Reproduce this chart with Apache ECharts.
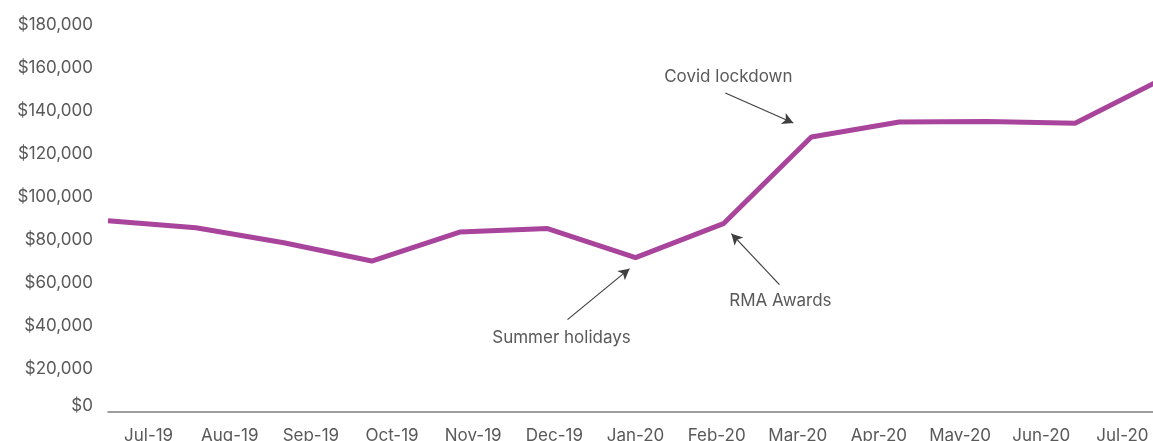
<!DOCTYPE html>
<html>
<head>
<meta charset="utf-8">
<style>
  html, body { margin: 0; padding: 0; background: #fff; }
  #revenue-chart { width: 1153px; height: 441px; }
</style>
<script src="https://cdn.jsdelivr.net/npm/echarts@6/dist/echarts.min.js"></script>
</head>
<body>
<div id="revenue-chart"></div>
<script>
// monthly revenue
const months = ['Jul-19', 'Aug-19', 'Sep-19', 'Oct-19', 'Nov-19', 'Dec-19',
  'Jan-20', 'Feb-20', 'Mar-20', 'Apr-20', 'May-20', 'Jun-20', 'Jul-20']
const revenue = [89000, 85700, 78700, 70200, 83700, 85300,
  71800, 87600, 127900, 134900, 135100, 134300, 155000]
const yMin = 0
const yMax = 180000
const yStep = 20000

// callouts: which month they point at, offsets are in px from that point
const notes = [
  { text: 'Covid lockdown', month: 'Mar-20', from: [-86, -44], to: [-18, -14], label: [-83, -60] },
  { text: 'RMA Awards', month: 'Feb-20', from: [56, 61], to: [8, 10], label: [57, 77] },
  { text: 'Summer holidays', month: 'Jan-20', from: [-68, 62], to: [-6, 11], label: [-74, 80] }
]

const textColor = '#595959'
const fontFamily = 'Inter, Lato, sans-serif'

const chartObj = echarts.init(document.getElementById('revenue-chart'))

chartObj.setOption({
  animation: false,
  // plot runs past the right edge, like the cropped original
  grid: { left: 108, right: -10, top: 25, bottom: 29, outerBoundsMode: 'none', containLabel: false },
  xAxis: [
    {
      // labels sit between ticks
      type: 'category',
      data: months,
      boundaryGap: true,
      axisLine: { lineStyle: { color: '#7f7f7f', width: 1.5 } },
      axisTick: { show: false },
      axisLabel: { color: textColor, fontSize: 17, fontFamily: fontFamily, margin: 15, interval: 0 },
      splitLine: { show: false }
    },
    {
      // the line is drawn on tick positions
      type: 'category',
      data: months,
      boundaryGap: false,
      show: false
    }
  ],
  yAxis: {
    type: 'value',
    min: yMin,
    max: yMax,
    interval: yStep,
    axisLine: { show: false },
    axisTick: { show: false },
    splitLine: { show: false },
    axisLabel: {
      color: textColor,
      fontSize: 17,
      fontFamily: fontFamily,
      margin: 15,
      formatter: v => v === 0 ? '{z|$0}' : '$' + v.toLocaleString('en-US'),
      rich: {
        z: { color: textColor, fontSize: 17, fontFamily: fontFamily, padding: [0, 0, 12, 0] }
      }
    }
  },
  series: [
    {
      name: 'Revenue',
      type: 'line',
      xAxisIndex: 1,
      data: revenue,
      symbol: 'none',
      lineStyle: { color: '#a8449b', width: 5 },
      clip: false
    }
  ]
})

// place the callouts relative to the data points
const arrows = []
const labels = []
notes.forEach(n => {
  const idx = months.indexOf(n.month)
  const p = chartObj.convertToPixel({ xAxisIndex: 1, yAxisIndex: 0 }, [idx, revenue[idx]])
  arrows.push([
    { x: p[0] + n.from[0], y: p[1] + n.from[1] },
    { x: p[0] + n.to[0], y: p[1] + n.to[1] }
  ])
  labels.push({
    type: 'text',
    x: p[0] + n.label[0],
    y: p[1] + n.label[1],
    style: {
      text: n.text,
      fill: textColor,
      font: '17px ' + fontFamily,
      align: 'center',
      verticalAlign: 'middle'
    }
  })
})

chartObj.setOption({
  series: [
    {
      name: 'Revenue',
      markLine: {
        silent: true,
        symbol: ['none', 'arrow'],
        symbolSize: [9, 11],
        lineStyle: { color: '#404040', width: 1.2, type: 'solid' },
        label: { show: false },
        data: arrows
      }
    }
  ],
  graphic: labels
})
</script>
</body>
</html>
